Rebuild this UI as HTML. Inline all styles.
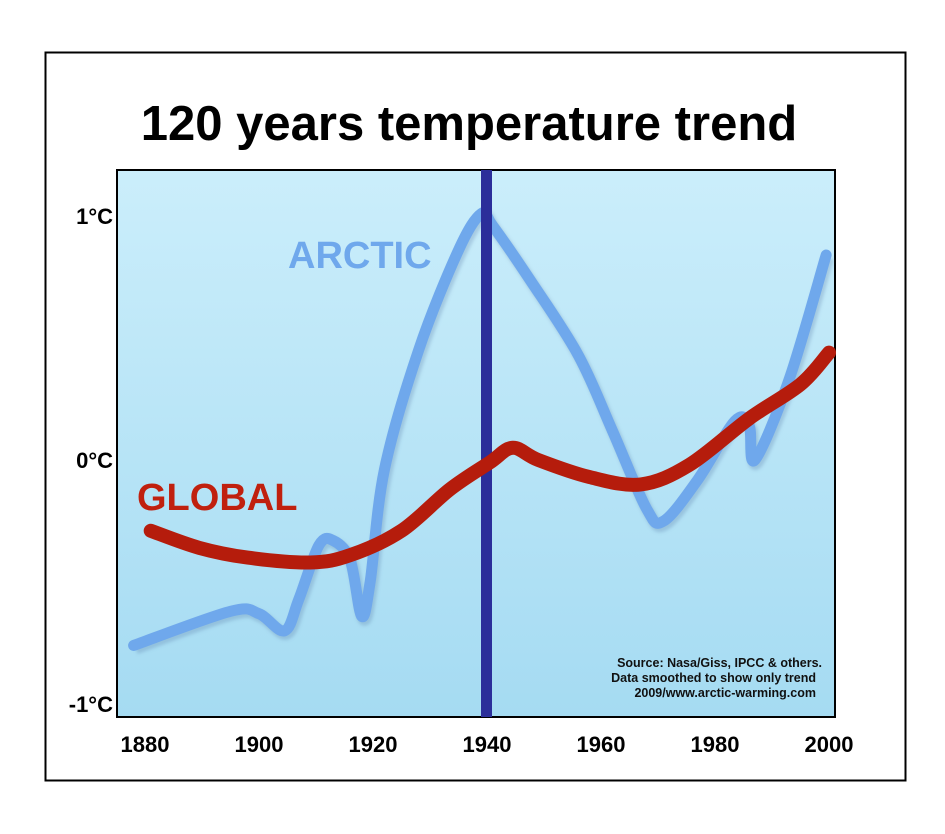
<!DOCTYPE html>
<html><head><meta charset="utf-8"><style>
body{margin:0;background:#fff;width:945px;height:829px;overflow:hidden;font-family:"Liberation Sans",sans-serif}
</style></head><body>
<svg width="945" height="829">
<defs><linearGradient id="bg" x1="0" y1="0" x2="0" y2="1"><stop offset="0" stop-color="#cbeefb"/><stop offset="1" stop-color="#a5dbf2"/></linearGradient>
<filter id="sh"><feGaussianBlur stdDeviation="1.5"/></filter></defs>
<rect x="45.5" y="52.5" width="860" height="728" fill="#fff" stroke="#000" stroke-width="2"/>
<text x="469" y="140" text-anchor="middle" font-size="49" font-weight="bold" fill="#000">120 years temperature trend</text>
<rect x="117" y="170" width="718" height="547" fill="url(#bg)" stroke="#000" stroke-width="2"/>
<g id="marks"></g>
<text x="288" y="268" font-size="38" font-weight="bold" fill="#6fa8ec">ARCTIC</text>
<text x="137" y="510" font-size="38" font-weight="bold" fill="#c0200e">GLOBAL</text>
<g font-size="12.5" font-weight="bold" fill="#111" text-anchor="end">
<text x="822" y="667">Source:  Nasa/Giss, IPCC &amp; others.</text>
<text x="816" y="682">Data smoothed to show only trend</text>
<text x="816" y="697">2009/www.arctic-warming.com</text></g>
<g id="axes" font-size="22" font-weight="bold" fill="#000"></g>
</svg>
<script>
const years=[1880,1900,1920,1940,1960,1980,2000];
const yTicks=[1,0,-1];
const yTickLabels=["1°C","0°C","-1°C"];
const arcticYears=[1878,1895,1900,1904.5,1907,1910.5,1913,1916,1918,1919.5,1922,1928,1935,1939,1941,1947.5,1956,1962,1968,1971,1977,1983.5,1986,1987,1993,1999.5];
const arcticVals=[-0.76,-0.62,-0.63,-0.70,-0.57,-0.35,-0.33,-0.41,-0.64,-0.5,-0.04,0.45,0.86,1.01,0.96,0.74,0.43,0.12,-0.2,-0.25,-0.08,0.16,0.14,0,0.33,0.84];
const globalYears=[1881,1889.5,1898,1909,1916,1925,1933.5,1940.5,1944.5,1949,1958,1967,1975.5,1986,1995,2000];
const globalVals=[-0.29,-0.36,-0.40,-0.42,-0.39,-0.29,-0.12,-0.01,0.05,0,-0.07,-0.1,-0.02,0.17,0.31,0.44];
const markerYear=1940;
const NS="http://www.w3.org/2000/svg";
const xs=y=>145+(y-1880)*5.7;
const ys=v=>460-v*244;
function path(xa,ya){
  const p=xa.map((x,i)=>[xs(x),ys(ya[i])]);
  let d="M"+p[0][0]+","+p[0][1];
  for(let i=0;i<p.length-1;i++){
    const p0=p[Math.max(0,i-1)],p1=p[i],p2=p[i+1],p3=p[Math.min(p.length-1,i+2)];
    const c1=[p1[0]+(p2[0]-p0[0])/6,p1[1]+(p2[1]-p0[1])/6];
    const c2=[p2[0]-(p3[0]-p1[0])/6,p2[1]-(p3[1]-p1[1])/6];
    d+=" C"+c1+" "+c2+" "+p2;
  }
  return d;
}
const g=document.getElementById('marks');
function mk(tag,attrs){const e=document.createElementNS(NS,tag);for(const k in attrs)e.setAttribute(k,attrs[k]);g.appendChild(e);return e;}
const sh1=mk('path',{d:path(arcticYears,arcticVals),fill:'none',stroke:'#5a7fa8','stroke-width':12,'stroke-opacity':0.3,filter:'url(#sh)',transform:'translate(2,3)'});


const a=mk('path',{d:path(arcticYears,arcticVals),fill:'none',stroke:'#6fa8ec','stroke-width':11,'stroke-linecap':'round','stroke-linejoin':'round'});


const vl=mk('rect',{x:xs(markerYear)-6,y:170,width:11,height:547,fill:'#2b2e9a'});


const gl=mk('path',{d:path(globalYears,globalVals),fill:'none',stroke:'#b51c0c','stroke-width':14,'stroke-linecap':'round','stroke-linejoin':'round'});


const ax=document.getElementById('axes');
years.forEach(y=>{const t=document.createElementNS(NS,'text');t.setAttribute('x',xs(y));t.setAttribute('y',752);t.setAttribute('text-anchor','middle');t.textContent=y;


ax.appendChild(t);});
yTicks.forEach((v,i)=>{const t=document.createElementNS(NS,'text');t.setAttribute('x',113);t.setAttribute('y',ys(v)+8);t.setAttribute('text-anchor','end');t.textContent=yTickLabels[i];


ax.appendChild(t);});
</script>
</body></html>
